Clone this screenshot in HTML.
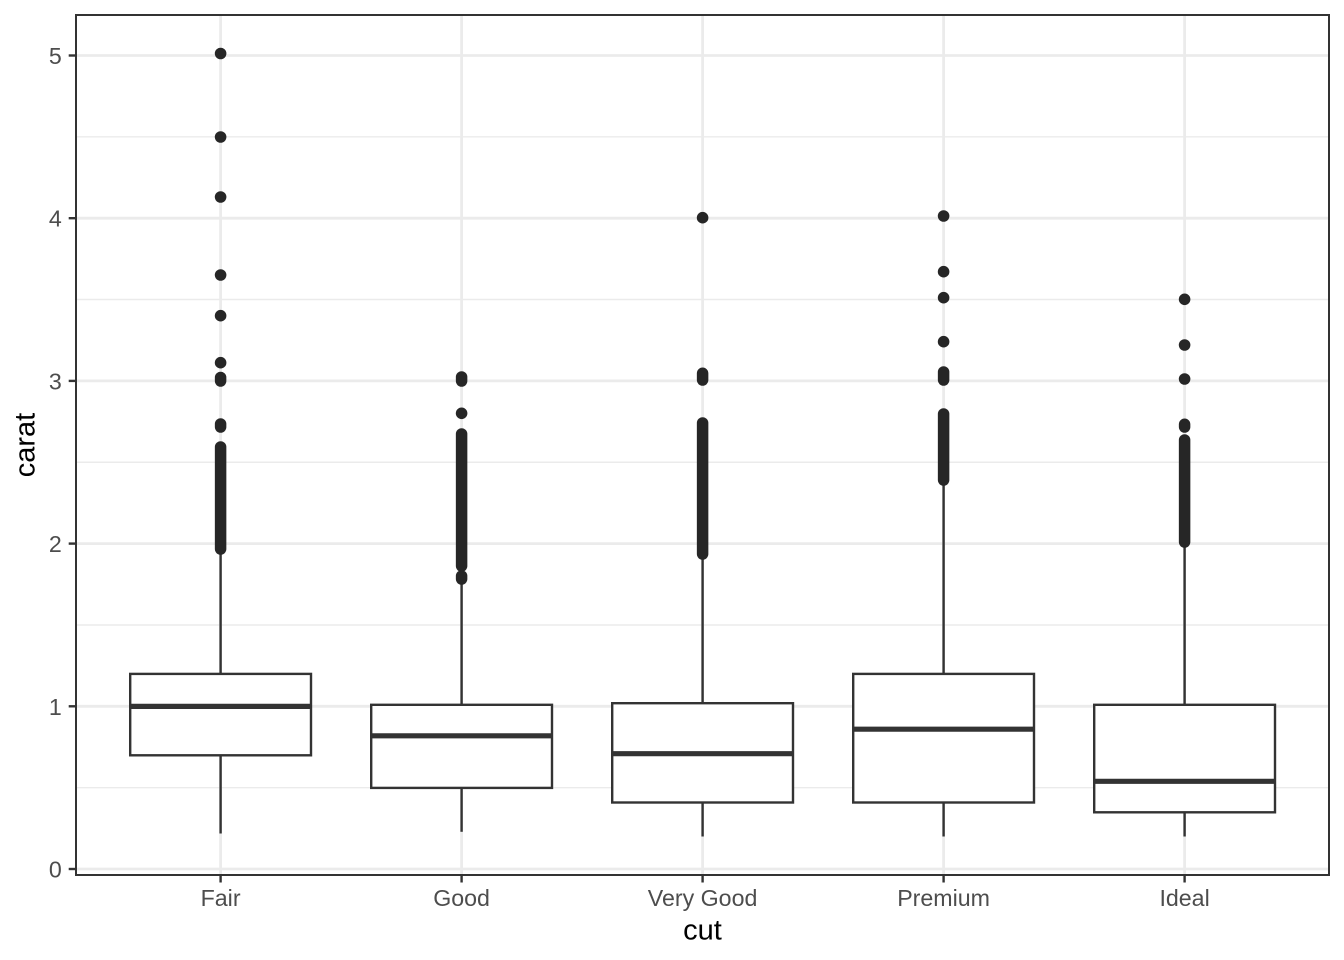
<!DOCTYPE html>
<html>
<head>
<meta charset="utf-8">
<style>
html,body{margin:0;padding:0;background:#fff;}
svg{display:block;}
text{font-family:"Liberation Sans",Arial,sans-serif;}
</style>
</head>
<body>
<svg width="1344" height="960" viewBox="0 0 1344 960" xmlns="http://www.w3.org/2000/svg">
<rect x="0" y="0" width="1344" height="960" fill="#fff"/>
<!-- minor grid -->
<g stroke="#EBEBEB" stroke-width="1.4">
<line x1="76" x2="1329" y1="787.65" y2="787.65"/>
<line x1="76" x2="1329" y1="625" y2="625"/>
<line x1="76" x2="1329" y1="462.25" y2="462.25"/>
<line x1="76" x2="1329" y1="299.5" y2="299.5"/>
<line x1="76" x2="1329" y1="136.85" y2="136.85"/>
</g>
<!-- major grid -->
<g stroke="#EBEBEB" stroke-width="2.8">
<line x1="76" x2="1329" y1="869" y2="869"/>
<line x1="76" x2="1329" y1="706.3" y2="706.3"/>
<line x1="76" x2="1329" y1="543.6" y2="543.6"/>
<line x1="76" x2="1329" y1="380.9" y2="380.9"/>
<line x1="76" x2="1329" y1="218.2" y2="218.2"/>
<line x1="76" x2="1329" y1="55.5" y2="55.5"/>
<line y1="15" y2="875" x1="220.6" x2="220.6"/>
<line y1="15" y2="875" x1="461.6" x2="461.6"/>
<line y1="15" y2="875" x1="702.6" x2="702.6"/>
<line y1="15" y2="875" x1="943.6" x2="943.6"/>
<line y1="15" y2="875" x1="1184.6" x2="1184.6"/>
</g>

<!-- whiskers -->
<g stroke="#333" stroke-width="2.4">
<line x1="220.6" x2="220.6" y1="673.9" y2="552"/>
<line x1="220.6" x2="220.6" y1="755.3" y2="833.5"/>
<line x1="461.6" x2="461.6" y1="704.8" y2="581"/>
<line x1="461.6" x2="461.6" y1="787.9" y2="831.8"/>
<line x1="702.6" x2="702.6" y1="703.2" y2="555"/>
<line x1="702.6" x2="702.6" y1="802.5" y2="836.5"/>
<line x1="943.6" x2="943.6" y1="673.9" y2="481.8"/>
<line x1="943.6" x2="943.6" y1="802.5" y2="836.5"/>
<line x1="1184.6" x2="1184.6" y1="704.8" y2="543.6"/>
<line x1="1184.6" x2="1184.6" y1="812.3" y2="836.5"/>
</g>

<!-- boxes -->
<g stroke="#333" stroke-width="2.4" fill="#fff">
<rect x="130.2" y="673.9" width="180.8" height="81.4"/>
<rect x="371.2" y="704.8" width="180.8" height="83.1"/>
<rect x="612.2" y="703.2" width="180.8" height="99.3"/>
<rect x="853.2" y="673.9" width="180.8" height="128.6"/>
<rect x="1094.2" y="704.8" width="180.8" height="107.5"/>
</g>
<!-- medians -->
<g stroke="#333" stroke-width="5.2">
<line x1="130.2" x2="311" y1="706.4" y2="706.4"/>
<line x1="371.2" x2="552" y1="735.8" y2="735.8"/>
<line x1="612.2" x2="793" y1="753.7" y2="753.7"/>
<line x1="853.2" x2="1034" y1="729.2" y2="729.2"/>
<line x1="1094.2" x2="1275" y1="781.3" y2="781.3"/>
</g>

<!-- outlier clusters -->
<g stroke="#262626" stroke-width="11.5" stroke-linecap="round">
<line x1="220.6" x2="220.6" y1="447" y2="549"/>
<line x1="220.6" x2="220.6" y1="424" y2="427"/>
<line x1="220.6" x2="220.6" y1="377.5" y2="381"/>
<line x1="461.6" x2="461.6" y1="434" y2="566"/>
<line x1="461.6" x2="461.6" y1="576" y2="579"/>
<line x1="461.6" x2="461.6" y1="377" y2="381"/>
<line x1="702.6" x2="702.6" y1="423" y2="554"/>
<line x1="702.6" x2="702.6" y1="373.3" y2="380"/>
<line x1="943.6" x2="943.6" y1="414" y2="480"/>
<line x1="943.6" x2="943.6" y1="372" y2="380"/>
<line x1="1184.6" x2="1184.6" y1="440" y2="542"/>
<line x1="1184.6" x2="1184.6" y1="424.3" y2="427"/>
</g>
<!-- individual outliers -->
<g fill="#262626">
<circle cx="220.6" cy="53.5" r="5.8"/>
<circle cx="220.6" cy="137" r="5.8"/>
<circle cx="220.6" cy="197" r="5.8"/>
<circle cx="220.6" cy="275" r="5.8"/>
<circle cx="220.6" cy="315.7" r="5.8"/>
<circle cx="220.6" cy="362.7" r="5.8"/>
<circle cx="461.6" cy="413.3" r="5.8"/>
<circle cx="702.6" cy="217.7" r="5.8"/>
<circle cx="943.6" cy="216" r="5.8"/>
<circle cx="943.6" cy="271.7" r="5.8"/>
<circle cx="943.6" cy="297.7" r="5.8"/>
<circle cx="943.6" cy="341.7" r="5.8"/>
<circle cx="1184.6" cy="299.3" r="5.8"/>
<circle cx="1184.6" cy="345" r="5.8"/>
<circle cx="1184.6" cy="379" r="5.8"/>
</g>

<!-- panel border -->
<rect x="76" y="15" width="1253" height="860" fill="none" stroke="#333" stroke-width="2"/>

<!-- ticks -->
<g stroke="#333" stroke-width="2.4">
<line x1="68.7" x2="76" y1="869" y2="869"/>
<line x1="68.7" x2="76" y1="706.3" y2="706.3"/>
<line x1="68.7" x2="76" y1="543.6" y2="543.6"/>
<line x1="68.7" x2="76" y1="380.9" y2="380.9"/>
<line x1="68.7" x2="76" y1="218.2" y2="218.2"/>
<line x1="68.7" x2="76" y1="55.5" y2="55.5"/>
<line y1="875" y2="882.5" x1="220.6" x2="220.6"/>
<line y1="875" y2="882.5" x1="461.6" x2="461.6"/>
<line y1="875" y2="882.5" x1="702.6" x2="702.6"/>
<line y1="875" y2="882.5" x1="943.6" x2="943.6"/>
<line y1="875" y2="882.5" x1="1184.6" x2="1184.6"/>
</g>

<!-- y tick labels -->
<g fill="#4D4D4D" font-size="23.2" text-anchor="end">
<text x="61.8" y="877.5">0</text>
<text x="61.8" y="714.8">1</text>
<text x="61.8" y="552.1">2</text>
<text x="61.8" y="389.4">3</text>
<text x="61.8" y="226.7">4</text>
<text x="61.8" y="64">5</text>
</g>
<!-- x tick labels -->
<g fill="#4D4D4D" font-size="23.2" text-anchor="middle">
<text x="220.6" y="906">Fair</text>
<text x="461.6" y="906">Good</text>
<text x="702.6" y="906">Very Good</text>
<text x="943.6" y="906">Premium</text>
<text x="1184.6" y="906">Ideal</text>
</g>

<!-- axis titles -->
<text x="702.5" y="939.3" font-size="29" text-anchor="middle" fill="#000">cut</text>
<text x="0" y="0" font-size="29" text-anchor="middle" fill="#000" transform="translate(34.5,445) rotate(-90)">carat</text>
</svg>
</body>
</html>
